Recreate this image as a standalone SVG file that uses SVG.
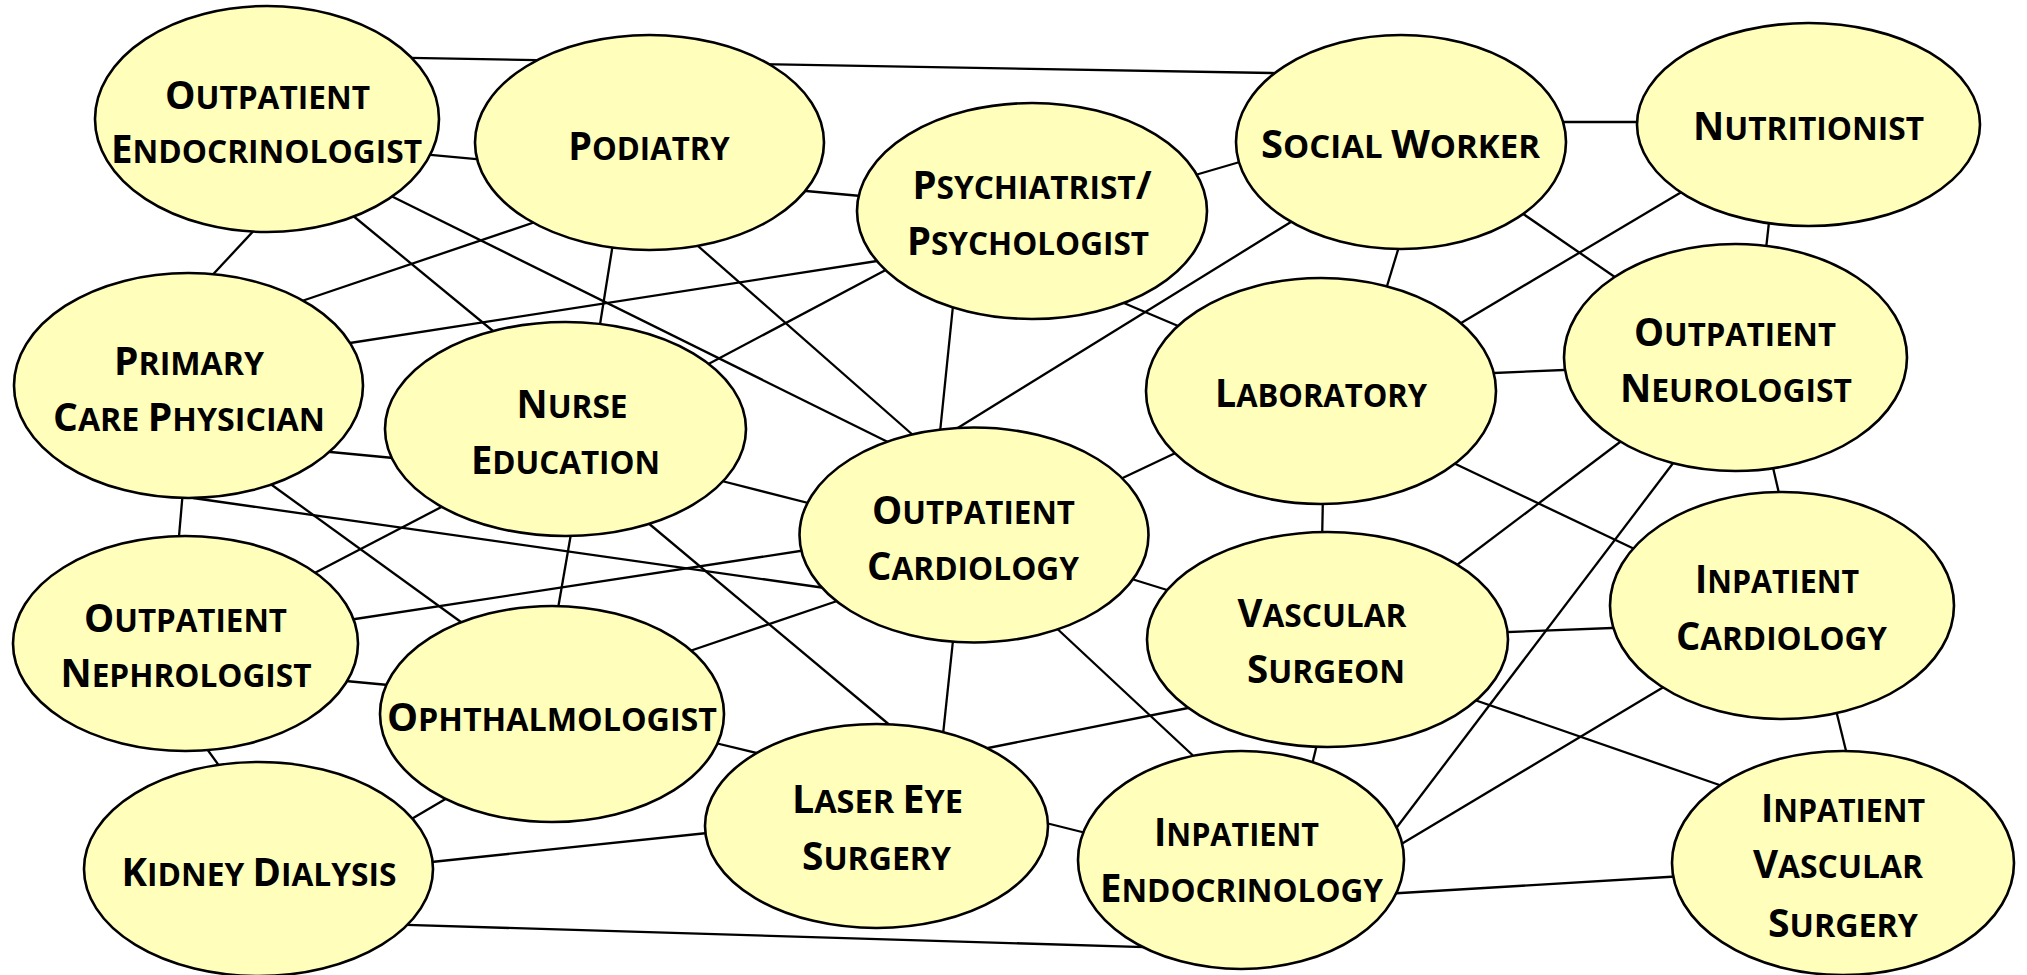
<svg xmlns="http://www.w3.org/2000/svg" width="2027" height="975" viewBox="0 0 2027 975">
<style>
.e line{stroke:#000;stroke-width:2.3}
.n ellipse{fill:#FFFFBB;stroke:#000;stroke-width:2.6}
.n text{font-family:"Open Sans","Noto Sans",sans-serif;font-weight:700;font-size:33px;text-anchor:middle;fill:#000}
.b{font-size:40px}
</style>
<rect width="2027" height="975" fill="#fff"/>
<g id="edges" class="e">
<line x1="396" y1="57.7" x2="1288" y2="73.3"/>
<line x1="417" y1="153.6" x2="490" y2="160.4"/>
<line x1="260" y1="224" x2="205" y2="283"/>
<line x1="346" y1="210" x2="504" y2="340"/>
<line x1="383" y1="192" x2="898" y2="447"/>
<line x1="293" y1="304" x2="544" y2="219"/>
<line x1="337" y1="345" x2="890" y2="259"/>
<line x1="614" y1="237" x2="598" y2="337"/>
<line x1="320" y1="451" x2="404" y2="459"/>
<line x1="265" y1="480" x2="472" y2="630"/>
<line x1="795" y1="190" x2="872" y2="197"/>
<line x1="1185" y1="178" x2="1250" y2="159"/>
<line x1="690" y1="239" x2="922" y2="443"/>
<line x1="699" y1="369" x2="897" y2="264"/>
<line x1="954" y1="296" x2="939" y2="442"/>
<line x1="948" y1="434" x2="1299" y2="217"/>
<line x1="1112" y1="298" x2="1190" y2="331"/>
<line x1="1112" y1="483" x2="1186" y2="448"/>
<line x1="714" y1="479" x2="820" y2="506"/>
<line x1="1554" y1="122" x2="1648" y2="122"/>
<line x1="1401" y1="240" x2="1384" y2="296"/>
<line x1="1516" y1="209" x2="1625" y2="284"/>
<line x1="1690" y1="187" x2="1451" y2="329"/>
<line x1="1770" y1="213" x2="1765" y2="258"/>
<line x1="1482" y1="373.5" x2="1576" y2="369.5"/>
<line x1="1445" y1="459" x2="1645" y2="554"/>
<line x1="1628" y1="436" x2="1449" y2="571"/>
<line x1="1680" y1="454" x2="1391" y2="835"/>
<line x1="1771" y1="459" x2="1781" y2="502"/>
<line x1="183" y1="490" x2="178" y2="548"/>
<line x1="193" y1="498" x2="832" y2="589"/>
<line x1="451" y1="502" x2="305" y2="578"/>
<line x1="572" y1="528" x2="556" y2="620"/>
<line x1="342" y1="621" x2="813" y2="549"/>
<line x1="335" y1="680" x2="399" y2="686"/>
<line x1="202" y1="742" x2="225" y2="774"/>
<line x1="403" y1="824" x2="454" y2="794"/>
<line x1="422" y1="863" x2="717" y2="832"/>
<line x1="398" y1="924.6" x2="1153" y2="947.4"/>
<line x1="681" y1="654" x2="846" y2="598"/>
<line x1="641" y1="517" x2="898" y2="732"/>
<line x1="954" y1="631" x2="942" y2="744"/>
<line x1="1051" y1="623" x2="1201" y2="763"/>
<line x1="1122" y1="576" x2="1180" y2="594"/>
<line x1="978" y1="750" x2="1198" y2="706"/>
<line x1="707" y1="741" x2="769" y2="756"/>
<line x1="1038" y1="821" x2="1094" y2="835"/>
<line x1="1323" y1="494" x2="1322" y2="544"/>
<line x1="1319" y1="736" x2="1310" y2="773"/>
<line x1="1496" y1="632.5" x2="1625" y2="627.5"/>
<line x1="1466" y1="697" x2="1731" y2="789"/>
<line x1="1672" y1="682" x2="1393" y2="849"/>
<line x1="1834" y1="702" x2="1849" y2="763"/>
<line x1="1384" y1="894" x2="1684" y2="876"/>
</g>
<g id="n-outpatient-endocrinologist" class="n">
<ellipse cx="267" cy="119" rx="172" ry="113"/>
<text x="267.5" y="109" textLength="205" lengthAdjust="spacingAndGlyphs"><tspan class="b">O</tspan>UTPATIENT</text>
<text x="266.5" y="163" textLength="311" lengthAdjust="spacingAndGlyphs"><tspan class="b">E</tspan>NDOCRINOLOGIST</text>
</g>
<g id="n-podiatry" class="n">
<ellipse cx="649.5" cy="142.5" rx="174.5" ry="107.5"/>
<text x="649" y="160" textLength="161.5" lengthAdjust="spacingAndGlyphs"><tspan class="b">P</tspan>ODIATRY</text>
</g>
<g id="n-psychiatrist" class="n">
<ellipse cx="1032" cy="211" rx="175" ry="108"/>
<text x="1032" y="199" textLength="239" lengthAdjust="spacingAndGlyphs"><tspan class="b">P</tspan>SYCHIATRIST<tspan class="b">/</tspan></text>
<text x="1028" y="255" textLength="242" lengthAdjust="spacingAndGlyphs"><tspan class="b">P</tspan>SYCHOLOGIST</text>
</g>
<g id="n-social-worker" class="n">
<ellipse cx="1401" cy="142" rx="165" ry="107"/>
<text x="1400.5" y="158" textLength="279" lengthAdjust="spacingAndGlyphs"><tspan class="b">S</tspan>OCIAL <tspan class="b">W</tspan>ORKER</text>
</g>
<g id="n-nutritionist" class="n">
<ellipse cx="1808.5" cy="124.5" rx="171.5" ry="101.5"/>
<text x="1808.5" y="140" textLength="231" lengthAdjust="spacingAndGlyphs"><tspan class="b">N</tspan>UTRITIONIST</text>
</g>
<g id="n-primary-care" class="n">
<ellipse cx="188.5" cy="385.5" rx="174.5" ry="112.5"/>
<text x="189" y="375" textLength="150" lengthAdjust="spacingAndGlyphs"><tspan class="b">P</tspan>RIMARY</text>
<text x="189" y="431" textLength="272" lengthAdjust="spacingAndGlyphs"><tspan class="b">C</tspan>ARE <tspan class="b">P</tspan>HYSICIAN</text>
</g>
<g id="n-nurse-education" class="n">
<ellipse cx="565.5" cy="429" rx="180.5" ry="107"/>
<text x="572" y="418" textLength="111" lengthAdjust="spacingAndGlyphs"><tspan class="b">N</tspan>URSE</text>
<text x="565.5" y="474" textLength="189" lengthAdjust="spacingAndGlyphs"><tspan class="b">E</tspan>DUCATION</text>
</g>
<g id="n-laboratory" class="n">
<ellipse cx="1321" cy="391" rx="175" ry="113"/>
<text x="1321" y="407" textLength="212" lengthAdjust="spacingAndGlyphs"><tspan class="b">L</tspan>ABORATORY</text>
</g>
<g id="n-outpatient-neurologist" class="n">
<ellipse cx="1735.5" cy="357.5" rx="171.5" ry="113.5"/>
<text x="1735" y="346" textLength="202" lengthAdjust="spacingAndGlyphs"><tspan class="b">O</tspan>UTPATIENT</text>
<text x="1736" y="402" textLength="232" lengthAdjust="spacingAndGlyphs"><tspan class="b">N</tspan>EUROLOGIST</text>
</g>
<g id="n-outpatient-cardiology" class="n">
<ellipse cx="974" cy="535" rx="174.5" ry="107.5"/>
<text x="973.5" y="524" textLength="203" lengthAdjust="spacingAndGlyphs"><tspan class="b">O</tspan>UTPATIENT</text>
<text x="973" y="580" textLength="212" lengthAdjust="spacingAndGlyphs"><tspan class="b">C</tspan>ARDIOLOGY</text>
</g>
<g id="n-outpatient-nephrologist" class="n">
<ellipse cx="185.5" cy="643.5" rx="172.5" ry="107.5"/>
<text x="185.5" y="632" textLength="203" lengthAdjust="spacingAndGlyphs"><tspan class="b">O</tspan>UTPATIENT</text>
<text x="186" y="687" textLength="251" lengthAdjust="spacingAndGlyphs"><tspan class="b">N</tspan>EPHROLOGIST</text>
</g>
<g id="n-ophthalmologist" class="n">
<ellipse cx="552" cy="714" rx="172" ry="108"/>
<text x="552" y="731" textLength="330" lengthAdjust="spacingAndGlyphs"><tspan class="b">O</tspan>PHTHALMOLOGIST</text>
</g>
<g id="n-kidney-dialysis" class="n">
<ellipse cx="258.5" cy="869" rx="174.5" ry="107"/>
<text x="259" y="886" textLength="275" lengthAdjust="spacingAndGlyphs"><tspan class="b">K</tspan>IDNEY <tspan class="b">D</tspan>IALYSIS</text>
</g>
<g id="n-laser-eye-surgery" class="n">
<ellipse cx="876.5" cy="826" rx="171.5" ry="102"/>
<text x="877.5" y="813" textLength="171" lengthAdjust="spacingAndGlyphs"><tspan class="b">L</tspan>ASER <tspan class="b">E</tspan>YE</text>
<text x="876.5" y="870" textLength="149" lengthAdjust="spacingAndGlyphs"><tspan class="b">S</tspan>URGERY</text>
</g>
<g id="n-vascular-surgeon" class="n">
<ellipse cx="1327.5" cy="639.5" rx="180.5" ry="107.5"/>
<text x="1322" y="627" textLength="169" lengthAdjust="spacingAndGlyphs"><tspan class="b">V</tspan>ASCULAR</text>
<text x="1326" y="683" textLength="158" lengthAdjust="spacingAndGlyphs"><tspan class="b">S</tspan>URGEON</text>
</g>
<g id="n-inpatient-endocrinology" class="n">
<ellipse cx="1241" cy="860" rx="163" ry="109"/>
<text x="1236.5" y="846" textLength="165" lengthAdjust="spacingAndGlyphs"><tspan class="b">I</tspan>NPATIENT</text>
<text x="1241.5" y="902" textLength="283" lengthAdjust="spacingAndGlyphs"><tspan class="b">E</tspan>NDOCRINOLOGY</text>
</g>
<g id="n-inpatient-cardiology" class="n">
<ellipse cx="1782" cy="605.5" rx="172" ry="113.5"/>
<text x="1777" y="593" textLength="164" lengthAdjust="spacingAndGlyphs"><tspan class="b">I</tspan>NPATIENT</text>
<text x="1781.5" y="650" textLength="211" lengthAdjust="spacingAndGlyphs"><tspan class="b">C</tspan>ARDIOLOGY</text>
</g>
<g id="n-inpatient-vascular-surgery" class="n">
<ellipse cx="1843" cy="863" rx="171" ry="112"/>
<text x="1843" y="822" textLength="164" lengthAdjust="spacingAndGlyphs"><tspan class="b">I</tspan>NPATIENT</text>
<text x="1838" y="878" textLength="170" lengthAdjust="spacingAndGlyphs"><tspan class="b">V</tspan>ASCULAR</text>
<text x="1843" y="937" textLength="150" lengthAdjust="spacingAndGlyphs"><tspan class="b">S</tspan>URGERY</text>
</g>
</svg>
